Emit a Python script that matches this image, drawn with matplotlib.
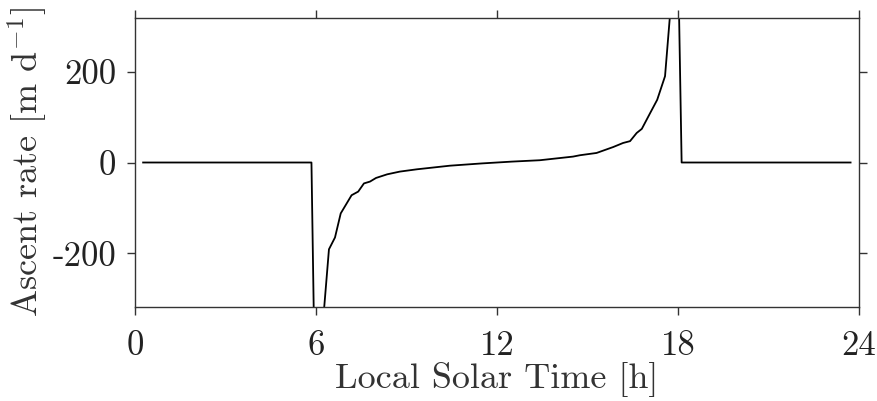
import matplotlib
matplotlib.use("Agg")
import matplotlib.pyplot as plt
from matplotlib.ticker import FixedLocator, FixedFormatter

# local solar time [h] and ascent rate [m/d]
hours = [0.27, 5.85, 5.93, 6.24, 6.43, 6.63, 6.82, 7.18, 7.40, 7.59, 7.79, 7.99,
         8.36, 8.78, 9.34, 10.44, 11.5, 12.5, 13.42, 14.52, 14.75, 15.30, 15.85,
         16.18, 16.41, 16.63, 16.80, 17.07, 17.31, 17.57, 17.76, 18.03, 18.12, 23.72]
ascent = [0, 0, -345, -345, -191, -165, -112, -72, -64, -46, -42, -34,
          -26, -20, -15, -7, -2, 2, 5, 13, 16, 21, 34,
          43, 47, 65, 74, 108, 138, 190, 345, 345, 0, 0]

x_ticks = [0, 6, 12, 18, 24]
y_ticks = [-200, 0, 200]
y_tick_labels = ["-200", "0", "200"]

plt.rcParams["font.family"] = "cmr10"
plt.rcParams["mathtext.fontset"] = "cm"
plt.rcParams["axes.unicode_minus"] = False

fig = plt.figure(figsize=(8.77, 4.01), dpi=100)
ax = fig.add_axes([0.1539, 0.2344, 0.8256, 0.7207])

ax.plot(hours, ascent, color="black", lw=1.3)

ax.set_xlim(0, 24)
ax.set_ylim(-318, 318)

ax.xaxis.set_major_locator(FixedLocator(x_ticks))
ax.yaxis.set_major_locator(FixedLocator(y_ticks))
ax.yaxis.set_major_formatter(FixedFormatter(y_tick_labels))

ax.tick_params(direction="out", length=5.5, width=1, color="#333333",
               labelsize=25, labelcolor="#222222", top=True, right=True)
ax.tick_params(axis="x", pad=11)
ax.tick_params(axis="y", pad=8)
for side in ax.spines.values():
    side.set_linewidth(1.0)
    side.set_color("#333333")

ax.set_xlabel("Local Solar Time [h]", fontsize=26, labelpad=0, color="#333333")
ax.set_ylabel("Ascent rate [m d$^{-1}$]", fontsize=26, labelpad=2, color="#333333")

fig.savefig("out.png", dpi=100)
